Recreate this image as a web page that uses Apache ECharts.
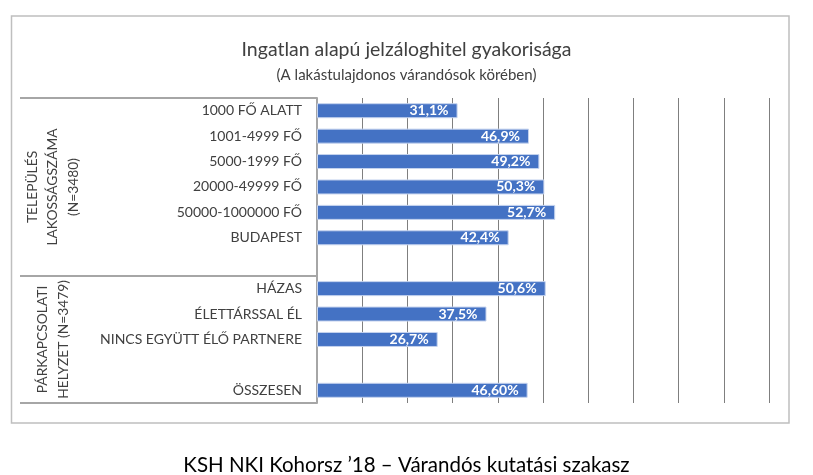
<!DOCTYPE html>
<html>
<head>
<meta charset="utf-8">
<script src="https://cdn.jsdelivr.net/npm/echarts@6/dist/echarts.min.js"></script>
<style>html,body{margin:0;padding:0;background:#fff;}#c{width:813px;height:475px;}</style>
</head>
<body>
<div id="c"></div>
<script>
const categories = ['1000 FŐ ALATT', '1001-4999 FŐ', '5000-1999 FŐ', '20000-49999 FŐ', '50000-1000000 FŐ', 'BUDAPEST', '', 'HÁZAS', 'ÉLETTÁRSSAL ÉL', 'NINCS EGYÜTT ÉLŐ PARTNERE', ' ', 'ÖSSZESEN'];
const values = [31.1, 46.9, 49.2, 50.3, 52.7, 42.4, null, 50.6, 37.5, 26.7, null, 46.6];
const valueLabels = ['31,1%', '46,9%', '49,2%', '50,3%', '52,7%', '42,4%', '', '50,6%', '37,5%', '26,7%', '', '46,60%'];
const groups = [
  { label: 'TELEPÜLÉS\nLAKOSSÁGSZÁMA\n(N=3480)', from: 0, to: 6 },
  { label: 'PÁRKAPCSOLATI\nHELYZET (N=3479)', from: 7, to: 11 }
];
const titleText = 'Ingatlan alapú jelzáloghitel gyakorisága';
const subtitleText = '(A lakástulajdonos várandósok körében)';
const footerText = 'KSH NKI Kohorsz ’18 – Várandós kutatási szakasz';

const FONT = 'Lato';
const chart = echarts.init(document.getElementById('c'), null, { renderer: 'canvas' });

const grid = { left: 317, right: 44, top: 98, bottom: 72 };

chart.setOption({
  animation: false,
  backgroundColor: '#fff',
  textStyle: { fontFamily: FONT },
  title: [
    { text: titleText, left: 'center', top: 33, textStyle: { fontFamily: FONT, fontSize: 19.5, fontWeight: 'normal', color: '#404040', lineHeight: 24 } },
    { text: subtitleText, left: 'center', top: 61, textStyle: { fontFamily: FONT, fontSize: 15, fontWeight: 'normal', color: '#404040', lineHeight: 18 } },
    { text: footerText, left: 'center', top: 448, textStyle: { fontFamily: FONT, fontSize: 20.5, fontWeight: 'normal', color: '#000', lineHeight: 24 } }
  ],
  grid: grid,
  xAxis: {
    type: 'value', min: 0, max: 100, interval: 10,
    axisLabel: { show: false }, axisTick: { show: false }, axisLine: { show: false },
    splitLine: { show: true, lineStyle: { color: '#7f7f7f', width: 1 } }
  },
  yAxis: {
    type: 'category', inverse: true, data: categories,
    axisTick: { show: false },
    axisLine: { show: true, lineStyle: { color: '#a6a6a6', width: 2 } },
    axisLabel: { fontFamily: FONT, fontSize: 14, color: '#404040', margin: 15 }
  },
  series: [{
    type: 'bar',
    data: values,
    barWidth: 15,
    itemStyle: { color: '#4472c4', borderColor: '#c5d3ee', borderWidth: 1 },
    label: {
      show: true, position: 'insideRight', distance: 9,
      formatter: p => valueLabels[p.dataIndex],
      color: '#fff', fontWeight: 'bold', fontSize: 14, fontFamily: FONT
    }
  }]
});

function drawDecor() {
  const yTop = grid.top;
  const yBot = 475 - grid.bottom;
  const band = (yBot - yTop) / categories.length;
  const boxLeft = 20, boxRight = 317;
  const els = [];
  els.push({ type: 'rect', shape: { x: 11.5, y: 16, width: 777.5, height: 407 }, style: { fill: 'none', stroke: '#bfbfbf', lineWidth: 1.5 }, silent: true });
  const bounds = [yTop];
  groups.forEach(g => {
    const c0 = chart.convertToPixel({ yAxisIndex: 0 }, categories[g.from]);
    const c1 = chart.convertToPixel({ yAxisIndex: 0 }, categories[g.to]);
    const top = c0 - band / 2, bot = c1 + band / 2;
    bounds.push(bot);
    const midY = (top + bot) / 2;
    els.push({
      type: 'text', x: 53, y: midY, rotation: Math.PI / 2,
      style: { text: g.label, fontFamily: FONT, fontSize: 13.8, fill: '#404040', align: 'center', verticalAlign: 'middle', lineHeight: 20.5 },
      silent: true
    });
  });
  bounds.forEach(y => {
    els.push({ type: 'line', shape: { x1: boxLeft, y1: y, x2: boxRight, y2: y }, style: { stroke: '#a6a6a6', lineWidth: 2 }, silent: true });
  });
  chart.setOption({ graphic: { elements: els } });
}
drawDecor();
</script>
</body>
</html>
